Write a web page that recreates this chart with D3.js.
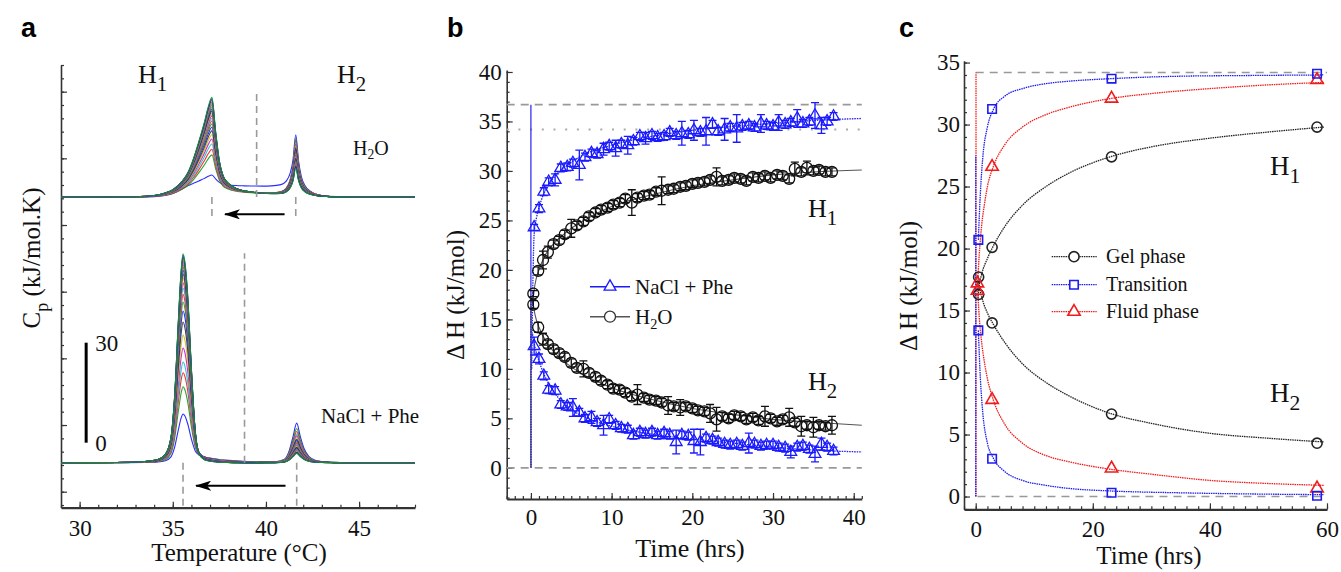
<!DOCTYPE html>
<html><head><meta charset="utf-8">
<script src="https://cdn.jsdelivr.net/npm/d3@7"></script>
<style>body{margin:0;background:#fff} svg text{font-family:"Liberation Serif","Times New Roman",serif;}</style>
</head><body><svg id="chart" width="1341" height="572"></svg>
<script>
// ---------------- Panel a data (DSC scans) ----------------
const aTicksX = [30, 35, 40, 45];
const aTicksY = [0, 20, 40, 60, 80, 100, 120];
const offsetTop = 88.4, offsetBot = 8.7;
const gridTop = [29,31,33,34,34.5,35,35.5,35.8,36.1,36.4,36.7,36.9,37.1,37.3,37.5,37.7,38.0,38.4,38.8,39.3,39.8,40.3,40.8,41.1,41.3,41.45,41.6,41.75,41.9,42.1,42.4,42.8,43.3,44,45,48];
const shapeH1Top = [0,0,0.003,0.015,0.035,0.07,0.15,0.23,0.37,0.55,0.75,0.9,1.0,0.65,0.35,0.2,0.12,0.07,0.045,0.03,0.02,0.015,0.01,0.008,0.006,0.005,0.004,0.003,0.002,0.001,0,0,0,0,0,0];
const shapeH2Top = [0,0,0,0,0,0,0,0,0,0,0,0,0,0,0,0,0,0,0,0,0,0.005,0.03,0.1,0.25,0.5,1.0,0.55,0.3,0.17,0.09,0.04,0.015,0.004,0,0];
const platTop = [0,0,0,0.02,0.08,0.25,0.6,0.8,0.88,0.92,0.95,0.98,1,1,1,1,1,1,1,1,1,1,1,1,0.97,0.92,0.8,0.6,0.4,0.2,0.06,0,0,0,0,0];
const ampH1Top = [3.4,11.7,13.4,15.0,16.5,17.8,19.0,20.1,21.1,22.0,22.8,23.6,24.3,25.0,25.6,26.2,26.8,27.3,27.8,28.2,28.6,29.0,29.4];
const ampH2Top = [16.1,16.8,16.2,15.6,15.0,14.5,14.0,13.5,13.0,12.6,12.2,11.8,11.4,11.0,10.6,10.3,10.0,9.7,9.4,9.1,8.8,8.5,8.1];
const ampPlTop = [3.2,0.95,0.92,0.9,0.88,0.86,0.84,0.82,0.8,0.78,0.76,0.74,0.72,0.7,0.68,0.66,0.64,0.62,0.6,0.58,0.56,0.54,0.52];

const gridBot = [29,32,33.5,34.2,34.6,34.9,35.1,35.3,35.45,35.55,35.65,35.8,36.0,36.2,36.4,36.7,37.0,37.5,38.0,38.5,39.0,39.5,40.0,40.5,41.0,41.25,41.45,41.65,41.85,42.05,42.3,42.6,43.0,43.5,44.5,48];
const shapeH1Bot = [0,0.001,0.006,0.015,0.04,0.12,0.32,0.68,0.92,1.0,0.96,0.8,0.45,0.16,0.05,0.02,0.012,0.006,0.003,0.001,0,0,0,0,0,0,0,0,0,0,0,0,0,0,0,0];
const shapeH2Bot = [0,0,0,0,0,0,0,0,0,0,0,0,0,0,0,0,0,0,0,0,0,0,0,0.01,0.08,0.3,0.65,1.0,0.65,0.35,0.16,0.07,0.03,0.01,0,0];
const platBot = [0,0,0,0,0,0,0,0,0,0,0,0,0.3,0.8,1.0,0.9,0.75,0.55,0.4,0.3,0.22,0.17,0.12,0.1,0.08,0.06,0.05,0.04,0.03,0.02,0.02,0,0,0,0,0];
const ampH1Bot = [14.6,22.8,27.0,30.2,34.4,38.3,42.2,45.5,48.2,50.5,52.4,54.0,55.4,56.6,57.7,58.6,59.4,60.1,60.7,61.3,61.8,62.3,62.7];
const ampH2Bot = [11.8,10.2,9.3,8.6,8.0,7.5,7.0,6.6,6.2,5.8,5.5,5.2,4.9,4.6,4.4,4.1,3.9,3.7,3.5,3.3,3.1,2.9,2.8];
const ampPlBot = [1.6,1.4,1.3,1.2,1.1,1.0,0.9,0.8,0.7,0.6,0.5,0.4,0.3,0.2,0.1,0,-0.1,-0.2,-0.2,-0.3,-0.3,-0.3,-0.4];
const scanColors = ["#1414ff","#129a1e","#ff1616","#12c2c8","#c414c4","#cbbb14","#303030"];

// ---------------- Panel b data ----------------
const bTicksX = [0, 10, 20, 30, 40];
const bTicksY = [0, 5, 10, 15, 20, 25, 30, 35, 40];
const tNa = [0.4,1.0,1.6,2.2,3.0,3.7,4.5,5.2,6.0,6.7,7.5,8.2,9.0,9.7,10.5,11.2,12.0,12.7,13.5,14.2,15.0,15.7,16.5,17.2,18.0,18.7,19.5,20.2,21.0,21.7,22.5,23.2,24.0,24.7,25.5,26.2,27.0,27.7,28.5,29.2,30.0,30.7,31.5,32.2,33.0,33.7,34.5,35.2,36.0,36.7,37.5];
const naH1 = [24.3,26.2,27.9,28.9,29.1,30.3,30.4,30.8,30.6,31.4,31.8,31.7,32.2,32.5,32.3,32.7,32.6,33.0,33.5,33.3,33.6,33.4,33.5,33.9,33.6,33.8,33.7,34.1,33.9,34.0,34.7,34.0,34.2,34.4,34.3,34.5,34.6,34.4,34.8,34.6,34.5,34.9,34.7,34.9,35.3,34.8,35.0,35.6,34.6,35.0,35.5];
const errNa1 = [0.3,0.4,0.4,0.4,0.6,0.4,0.4,0.4,1.5,0.4,0.4,0.4,0.6,0.4,0.8,0.4,0.9,0.4,0.4,0.6,0.4,0.4,0.4,0.4,0.4,1.2,0.4,1.0,0.4,1.4,0.4,0.4,1.1,0.4,1.4,0.4,0.4,0.4,0.9,0.4,0.4,0.8,0.4,0.4,0.9,0.4,0.4,1.3,0.8,0.4,0.4];
const naH2 = [12.3,11.0,9.3,7.9,7.8,6.4,6.2,6.1,5.6,5.0,5.1,4.6,4.3,4.9,4.3,4.0,3.9,3.3,3.6,3.4,3.6,3.3,3.5,3.3,2.6,3.3,3.2,2.7,2.6,3.0,2.8,2.6,2.4,2.3,2.4,2.2,2.5,2.4,2.2,2.3,2.3,2.1,2.0,1.6,2.1,2.2,1.9,1.4,2.4,2.1,1.7];
const errNa2 = [0.9,0.5,0.4,0.4,0.4,0.4,0.4,0.9,0.4,0.4,0.6,0.4,1.0,0.4,0.4,0.4,0.4,0.4,0.4,0.4,0.4,0.4,0.4,0.4,1.2,0.4,0.4,1.2,1.3,0.4,0.4,0.4,0.4,0.4,0.4,0.4,1.0,0.4,0.4,0.4,0.4,0.4,0.4,0.6,0.4,0.4,0.4,0.8,0.6,0.4,0.4];
const tW = [0.3,0.9,1.5,2.1,2.8,3.5,4.2,5.0,5.7,6.5,7.2,8.0,8.7,9.5,10.2,11.0,11.7,12.5,13.2,14.0,14.7,15.5,16.2,17.0,17.7,18.5,19.2,20.0,20.7,21.5,22.2,23.0,23.7,24.5,25.2,26.0,26.7,27.5,28.2,29.0,29.7,30.5,31.2,32.0,32.7,33.5,34.2,35.0,35.7,36.5,37.3];
const wH1 = [17.6,19.9,21.0,21.8,22.6,23.0,23.6,24.2,24.5,24.9,25.4,25.8,26.1,26.3,26.6,26.8,27.2,26.8,27.3,27.5,27.6,27.9,28.0,28.1,28.2,28.4,28.5,28.7,28.8,28.9,29.1,29.4,29.0,29.1,29.3,29.2,29.0,29.4,29.3,29.5,29.3,29.6,29.5,29.2,30.2,29.9,30.3,30.0,30.1,29.9,29.9];
const errW1 = [0.3,0.4,0.9,0.6,0.4,0.4,0.4,0.9,0.4,0.4,0.4,0.4,0.4,0.4,0.4,0.4,0.4,1.3,0.4,0.4,0.4,0.4,1.4,0.4,0.4,0.4,0.4,0.4,0.4,0.4,0.4,0.9,0.4,0.4,0.4,0.4,0.4,0.4,0.4,0.4,0.4,0.4,0.4,0.4,0.7,0.4,0.7,0.4,0.4,0.4,0.4];
const wH2 = [16.5,14.2,13.0,12.5,12.0,11.6,11.2,10.6,10.1,10.0,9.6,9.2,8.8,8.4,8.0,7.9,7.6,7.2,7.4,7.1,6.9,6.8,6.6,6.3,6.2,6.1,6.2,6.0,5.8,5.7,5.5,4.9,5.2,5.0,5.3,5.2,4.9,5.1,4.8,5.2,5.0,4.7,4.9,5.1,4.6,4.2,4.3,4.1,4.3,4.2,4.3];
const errW2 = [0.4,0.5,0.6,0.4,0.4,0.4,0.4,0.4,0.4,0.8,0.4,0.4,0.4,0.4,0.4,0.4,0.4,0.4,1.0,0.4,0.4,0.4,0.4,0.9,0.4,0.8,0.4,0.4,0.4,0.4,0.9,1.2,0.4,0.4,0.4,0.4,0.4,0.4,0.4,1.0,0.4,0.4,0.4,0.9,0.4,1.0,0.4,1.0,0.4,0.4,0.9];
const fitNa1 = [[0.1,10],[0.25,19],[0.4,23.6],[0.7,25.3],[1,26.3],[1.5,27.5],[2,28.3],[3,29.5],[4,30.3],[5,30.9],[7,31.8],[10,32.6],[15,33.5],[20,34.1],[25,34.5],[30,34.8],[35,35.1],[41,35.3]];
const fitNa2 = [[0.2,13.5],[0.5,12.2],[1,10.8],[2,8.8],[3,7.5],[5,5.9],[7,5.0],[10,4.2],[15,3.4],[20,2.9],[25,2.5],[30,2.1],[35,1.8],[41,1.6]];
const fitW1 = [[0.2,16.5],[0.5,18.5],[1,20],[2,21.8],[3,22.8],[5,24.2],[7,25.2],[10,26.4],[15,27.6],[20,28.5],[25,29.1],[30,29.6],[35,29.9],[41,30.1]];
const fitW2 = [[0.2,17],[0.5,15.5],[1,14.2],[2,12.6],[3,11.6],[5,10.2],[7,9.2],[10,8.1],[15,6.9],[20,6.0],[25,5.4],[30,4.9],[35,4.6],[41,4.3]];
const bRefDash = 36.7, bRefDot = 34.2;

// ---------------- Panel c data ----------------
const cTicksX = [0, 20, 40, 60];
const cTicksY = [0, 5, 10, 15, 20, 25, 30, 35];
const tGel = [0.5, 2.8, 23.2, 58.3];
const tTrans = [0.45, 2.8, 23.2, 58.3];
const tFluid = [0.3, 2.8, 23.2, 58.3];
const gelH1 = [17.7, 20.1, 27.4, 29.8];
const gelH2 = [16.3, 14.0, 6.65, 4.3];
const transH1 = [20.7, 31.25, 33.7, 34.1];
const transH2 = [13.4, 3.05, 0.3, 0.06];
const fluidH1 = [17.2, 26.6, 32.1, 33.6];
const fluidH2 = [16.6, 7.8, 2.27, 0.66];
const fitGel1 = [[0.4,16.0],[0.6,17.0],[1,17.9],[2,19.2],[3,20.2],[5,21.8],[8,23.5],[12,25.0],[16,26.1],[23,27.4],[30,28.2],[40,28.9],[50,29.4],[59.5,29.8]];
const fitGel2 = [[0.4,17.8],[0.7,16.8],[1.2,15.8],[2,14.8],[3,13.9],[5,12.4],[8,10.7],[12,9.2],[16,8.1],[23,6.7],[30,5.9],[40,5.1],[50,4.7],[59.5,4.4]];
const fitTr1 = [[0.45,20.7],[0.8,24.5],[1.2,27.3],[2,29.8],[3,31.2],[5,32.3],[8,32.9],[12,33.3],[16,33.5],[23,33.7],[35,33.9],[45,33.95],[59.5,34.0]];
const fitTr2 = [[0.45,13.4],[0.8,9.5],[1.2,6.8],[2,4.3],[3,3.1],[5,2.0],[8,1.3],[12,0.9],[16,0.65],[23,0.45],[35,0.3],[45,0.22],[59.5,0.15]];
const fitFl1 = [[0.3,17.0],[0.6,19.5],[1,21.8],[1.5,23.6],[2,25.0],[3,26.6],[5,28.4],[8,29.8],[12,30.8],[16,31.4],[23,32.1],[30,32.5],[40,32.9],[50,33.2],[59.5,33.4]];
const fitFl2 = [[0.3,17.0],[0.6,14.5],[1,12.5],[1.5,10.8],[2,9.5],[3,7.8],[5,5.8],[8,4.3],[12,3.3],[16,2.8],[23,2.2],[30,1.8],[40,1.3],[50,1.05],[59.5,0.9]];
const cRef = 34.2;

// ---------------- drawing ----------------
const svg = d3.select("#chart");
svg.append("rect").attr("width",1341).attr("height",572).attr("fill","#fff");
const defs = svg.append("defs");
defs.append("marker").attr("id","arr").attr("viewBox","0 0 16 10").attr("refX",15).attr("refY",5)
  .attr("markerWidth",16).attr("markerHeight",10).attr("markerUnits","userSpaceOnUse").attr("orient","auto")
  .append("path").attr("d","M0,0 L16,5 L0,10 L4,5 Z").attr("fill","#000");

function styleAxis(g, fs, sw, keepDomain=true){
  g.attr("font-size",fs);
  g.selectAll("text").attr("fill","#111");
  g.selectAll(".tick line").attr("stroke","#333").attr("stroke-width",1.2);
  if(keepDomain) g.select(".domain").attr("stroke","#333").attr("stroke-width",sw);
  else g.select(".domain").remove();
}
function rich(g, x, y, parts, size, anchor="start", rot=false, subScale=0.72, subShift=0.3){
  const t = g.append("text").attr("x",x).attr("y",y).attr("font-size",size).attr("text-anchor",anchor).attr("fill","#111");
  if(rot) t.attr("transform",`rotate(-90,${x},${y})`);
  let prevSub=false;
  parts.forEach(([s,sub])=>{
    const ts = t.append("tspan").text(s);
    if(sub && !prevSub) ts.attr("dy",size*subShift).attr("font-size",size*subScale);
    else if(!sub && prevSub) ts.attr("dy",-size*subShift);
    else if(sub) ts.attr("font-size",size*subScale);
    prevSub = !!sub;
  });
  return t;
}
function axesFor(xs, ys, xMaj, xMin, yMaj, yMin, xPad, yPad, labelsY=true){
  const x0 = xs.range()[0], y0 = ys.range()[0];
  const gx2 = svg.append("g").attr("transform",`translate(0,${y0})`)
    .call(d3.axisBottom(xs).tickValues(xMin).tickSize(-3).tickSizeOuter(0).tickFormat(""));
  styleAxis(gx2, 23, 2, false);
  const gy2 = svg.append("g").attr("transform",`translate(${x0},0)`)
    .call(d3.axisLeft(ys).tickValues(yMin).tickSize(-3).tickSizeOuter(0).tickFormat(""));
  styleAxis(gy2, 23, 1.5, false);
  const gx = svg.append("g").attr("transform",`translate(0,${y0})`)
    .call(d3.axisBottom(xs).tickValues(xMaj).tickSize(-6).tickSizeOuter(0).tickPadding(xPad).tickFormat(d3.format("d")));
  styleAxis(gx, 23, 2.2);
  const gy = svg.append("g").attr("transform",`translate(${x0},0)`)
    .call(d3.axisLeft(ys).tickValues(yMaj).tickSize(-6).tickSizeOuter(0).tickPadding(yPad).tickFormat(labelsY?d3.format("d"):""));
  styleAxis(gy, 23, 1.6);
}

// ===== Panel a =====
const xA = d3.scaleLinear().domain([29,48]).range([61,415]);
const yA = d3.scaleLinear().domain([-4.8,128]).range([507.7,65]);
axesFor(xA, yA, aTicksX, d3.range(29,49,1), aTicksY, d3.range(-4,129,4), 12, 4, false);
const lineA = d3.line().x(d=>xA(d[0])).y(d=>yA(d[1])).curve(d3.curveMonotoneX);
const gScans = svg.append("g").attr("fill","none").attr("stroke-width",1.1);
function drawScans(grid, s1, s2, pl, a1, a2, ap, off){
  a1.forEach((amp,i)=>{
    const pts = grid.map((T,k)=>[T, off + amp*s1[k] + a2[i]*s2[k] + ap[i]*pl[k]]);
    gScans.append("path").attr("d",lineA(pts)).attr("stroke",scanColors[i%scanColors.length]).attr("stroke-opacity",0.9);
  });
}
drawScans(gridTop, shapeH1Top, shapeH2Top, platTop, ampH1Top, ampH2Top, ampPlTop, offsetTop);
drawScans(gridBot, shapeH1Bot, shapeH2Bot, platBot, ampH1Bot, ampH2Bot, ampPlBot, offsetBot);
const dashA = [[37.1,offsetTop,82.2],[41.6,offsetTop,82.2],[39.5,offsetTop,119.5],[35.55,offsetBot,-4.8],[41.65,offsetBot,-4.8],[38.85,offsetBot,71.5]];
svg.append("g").selectAll("line").data(dashA).join("line")
  .attr("x1",d=>xA(d[0])).attr("x2",d=>xA(d[0])).attr("y1",d=>yA(d[1])).attr("y2",d=>yA(d[2]))
  .attr("stroke","#9a9a9a").attr("stroke-width",1.6).attr("stroke-dasharray","7,5");
const arrowsA = [[41.0,37.8,83.2],[41.05,36.25,1.8]];
svg.append("g").selectAll("line").data(arrowsA).join("line")
  .attr("x1",d=>xA(d[0])).attr("x2",d=>xA(d[1])).attr("y1",d=>yA(d[2])).attr("y2",d=>yA(d[2]))
  .attr("stroke","#000").attr("stroke-width",2).attr("marker-end","url(#arr)");
// scale bar
svg.append("line").attr("x1",xA(30.35)).attr("x2",xA(30.35)).attr("y1",yA(14.7)).attr("y2",yA(44.7)).attr("stroke","#000").attr("stroke-width",3);
const gA = svg.append("g");
gA.append("text").attr("x",xA(30.35)+9).attr("y",yA(44.7)+8).attr("font-size",23).attr("fill","#111").text("30");
gA.append("text").attr("x",xA(30.35)+9).attr("y",yA(14.7)+8).attr("font-size",23).attr("fill","#111").text("0");
rich(gA, 138, 83, [["H",0],["1",1]], 26, "start", false, 0.8, 0.3);
rich(gA, 337, 83, [["H",0],["2",1]], 26, "start", false, 0.8, 0.3);
rich(gA, 353, 155, [["H",0],["2",1],["O",0]], 20, "start", false, 0.68, 0.22);
gA.append("text").attr("x",321).attr("y",422.7).attr("font-size",21).attr("fill","#111").text("NaCl + Phe");
rich(gA, 40, 258, [["C",0],["p",1],[" (kJ/mol.K)",0]], 25, "middle", true, 0.72, 0.3);
gA.append("text").attr("x",239).attr("y",561).attr("font-size",25).attr("text-anchor","middle").attr("fill","#111").text("Temperature (°C)");

// ===== Panel b =====
const xB = d3.scaleLinear().domain([-3,41]).range([506.7,861.8]);
const yB = d3.scaleLinear().domain([-3.15,40.2]).range([499,70]);
axesFor(xB, yB, bTicksX, d3.range(-3,42,1), bTicksY, d3.range(-3,41,1), 10, 5, true);
const gB = svg.append("g");
gB.append("line").attr("x1",xB(-3)).attr("x2",xB(41)).attr("y1",yB(bRefDash)).attr("y2",yB(bRefDash)).attr("stroke","#999").attr("stroke-width",1.6).attr("stroke-dasharray","8,6");
gB.append("line").attr("x1",xB(-3)).attr("x2",xB(41)).attr("y1",yB(bRefDot)).attr("y2",yB(bRefDot)).attr("stroke","#aaa").attr("stroke-width",2).attr("stroke-dasharray","2,9.7");
gB.append("line").attr("x1",xB(-3)).attr("x2",xB(41)).attr("y1",yB(0)).attr("y2",yB(0)).attr("stroke","#999").attr("stroke-width",1.6).attr("stroke-dasharray","8,6");
gB.append("line").attr("x1",xB(0)).attr("x2",xB(0)).attr("y1",yB(0)).attr("y2",yB(bRefDash)).attr("stroke","#2222ee").attr("stroke-width",1.2);
gB.append("line").attr("x1",xB(0.02)).attr("x2",xB(0.02)).attr("y1",yB(0)).attr("y2",yB(17.5)).attr("stroke","#222").attr("stroke-width",1.2).attr("stroke-dasharray","1.5,1");
const lineB = d3.line().x(d=>xB(d[0])).y(d=>yB(d[1])).curve(d3.curveMonotoneX);
gB.append("path").attr("d",lineB(fitW1)).attr("fill","none").attr("stroke","#555").attr("stroke-width",1.1);
gB.append("path").attr("d",lineB(fitW2)).attr("fill","none").attr("stroke","#555").attr("stroke-width",1.1);
gB.append("path").attr("d",lineB(fitNa1)).attr("fill","none").attr("stroke","#2020f0").attr("stroke-width",1.3).attr("stroke-dasharray","1.5,1");
gB.append("path").attr("d",lineB(fitNa2)).attr("fill","none").attr("stroke","#2020f0").attr("stroke-width",1.3).attr("stroke-dasharray","1.5,1");
const triSym = d3.symbol().type(d3.symbolTriangle).size(60)();
const cirSym = d3.symbol().type(d3.symbolCircle).size(95)();
function seriesB(ts, vs, es, color, sym){
  const g = gB.append("g").attr("stroke",color).attr("fill","none").attr("stroke-width",1.3);
  const data = ts.map((t,i)=>({t, v:vs[i], e:es[i]}));
  g.selectAll(".eb").data(data).join("path").attr("class","eb")
    .attr("d",d=>{const x=xB(d.t), y1=yB(d.v-d.e), y2=yB(d.v+d.e); return `M${x},${y1}V${y2}M${x-4},${y1}H${x+4}M${x-4},${y2}H${x+4}`;});
  g.selectAll(".mk").data(data).join("path").attr("class","mk").attr("d",sym)
    .attr("transform",d=>`translate(${xB(d.t)},${yB(d.v)})`);
}
seriesB(tW, wH1, errW1, "#111", cirSym);
seriesB(tW, wH2, errW2, "#111", cirSym);
seriesB(tNa, naH1, errNa1, "#1a1aff", triSym);
seriesB(tNa, naH2, errNa2, "#1a1aff", triSym);
// legend b
gB.append("line").attr("x1",590).attr("x2",630).attr("y1",286.7).attr("y2",286.7).attr("stroke","#1a1aff").attr("stroke-width",1.4);
gB.append("path").attr("d",triSym).attr("transform","translate(610,286.7)").attr("stroke","#1a1aff").attr("fill","#fff").attr("stroke-width",1.3);
gB.append("text").attr("x",635).attr("y",294).attr("font-size",21).attr("fill","#111").text("NaCl + Phe");
gB.append("line").attr("x1",590).attr("x2",630).attr("y1",316.7).attr("y2",316.7).attr("stroke","#555").attr("stroke-width",1.4);
gB.append("path").attr("d",cirSym).attr("transform","translate(610,316.7)").attr("stroke","#333").attr("fill","#fff").attr("stroke-width",1.3);
rich(gB, 635, 324, [["H",0],["2",1],["O",0]], 21, "start", false, 0.68, 0.22);
rich(gB, 808, 216.7, [["H",0],["1",1]], 26, "start", false, 0.8, 0.3);
rich(gB, 808, 390, [["H",0],["2",1]], 26, "start", false, 0.8, 0.3);
rich(gB, 464, 295, [["Δ H (kJ/mol)",0]], 25, "middle", true);
gB.append("text").attr("x",690).attr("y",557).attr("font-size",26).attr("text-anchor","middle").attr("fill","#111").text("Time (hrs)");

// ===== Panel c =====
const xC = d3.scaleLinear().domain([-2,60]).range([964,1327]);
const yC = d3.scaleLinear().domain([-1.03,35.15]).range([509.3,60.7]);
axesFor(xC, yC, cTicksX, d3.range(-2,61,2), cTicksY, d3.range(-1,36,1), 11, 4, true);
const gC = svg.append("g");
gC.append("line").attr("x1",xC(0)).attr("x2",xC(60)).attr("y1",yC(cRef)).attr("y2",yC(cRef)).attr("stroke","#999").attr("stroke-width",1.6).attr("stroke-dasharray","8,6");
gC.append("line").attr("x1",xC(0.3)).attr("x2",xC(60)).attr("y1",yC(0)).attr("y2",yC(0)).attr("stroke","#999").attr("stroke-width",1.6).attr("stroke-dasharray","8,6");
gC.append("line").attr("x1",xC(0.05)).attr("x2",xC(0.05)).attr("y1",yC(0)).attr("y2",yC(cRef)).attr("stroke","#ee2222").attr("stroke-width",1.3).attr("stroke-dasharray","1.5,0.8");
gC.append("line").attr("x1",xC(0)).attr("x2",xC(0)).attr("y1",yC(0)).attr("y2",yC(27.5)).attr("stroke","#2222ee").attr("stroke-width",1.3).attr("stroke-dasharray","1.5,0.8");
const lineC = d3.line().x(d=>xC(d[0])).y(d=>yC(d[1])).curve(d3.curveMonotoneX);
const cSeries = [
  {fits:[fitGel1,fitGel2], t:tGel, v:[gelH1,gelH2], color:"#222", sym:d3.symbol().type(d3.symbolCircle).size(80)()},
  {fits:[fitFl1,fitFl2], t:tFluid, v:[fluidH1,fluidH2], color:"#ee1c1c", sym:d3.symbol().type(d3.symbolTriangle).size(66)()},
  {fits:[fitTr1,fitTr2], t:tTrans, v:[transH1,transH2], color:"#1c1cee", sym:d3.symbol().type(d3.symbolSquare).size(72)()}
];
cSeries.forEach(s=>{
  s.fits.forEach(f=>gC.append("path").attr("d",lineC(f)).attr("fill","none").attr("stroke",s.color).attr("stroke-width",1.3).attr("stroke-dasharray","1.5,0.8"));
});
cSeries.forEach(s=>{
  s.v.forEach(vals=>{
    gC.append("g").selectAll("path").data(s.t.map((t,i)=>[t,vals[i]])).join("path").attr("d",s.sym)
      .attr("transform",d=>`translate(${xC(d[0])},${yC(d[1])})`)
      .attr("fill","none").attr("stroke",s.color).attr("stroke-width",1.6);
  });
});
// legend c
const legC = [["Gel phase","#222",cSeries[0].sym,256.7],["Transition","#1c1cee",cSeries[2].sym,284.7],["Fluid phase","#ee1c1c",cSeries[1].sym,311.7]];
legC.forEach(([lab,col,sym,y])=>{
  gC.append("line").attr("x1",1051.7).attr("x2",1096.7).attr("y1",y).attr("y2",y).attr("stroke",col).attr("stroke-width",1.3).attr("stroke-dasharray","1.5,0.8");
  gC.append("path").attr("d",sym).attr("transform",`translate(1074,${y})`).attr("fill","#fff").attr("stroke",col).attr("stroke-width",1.6);
  gC.append("text").attr("x",1106).attr("y",y+6.5).attr("font-size",20).attr("fill","#111").text(lab);
});
rich(gC, 1270, 175, [["H",0],["1",1]], 27, "start", false, 0.8, 0.3);
rich(gC, 1270, 402, [["H",0],["2",1]], 27, "start", false, 0.8, 0.3);
rich(gC, 917, 286, [["Δ H (kJ/mol)",0]], 25, "middle", true);
gC.append("text").attr("x",1149).attr("y",564).attr("font-size",25).attr("text-anchor","middle").attr("fill","#111").text("Time (hrs)");

// panel letters (sans-serif bold)
[["a",21],["b",447],["c",899]].forEach(([l,x])=>{
  svg.append("text").attr("x",x).attr("y",37).attr("font-size",27).attr("font-weight","bold")
    .style("font-family","'Liberation Sans', Arial, sans-serif").attr("fill","#000").text(l);
});
</script></body></html>
